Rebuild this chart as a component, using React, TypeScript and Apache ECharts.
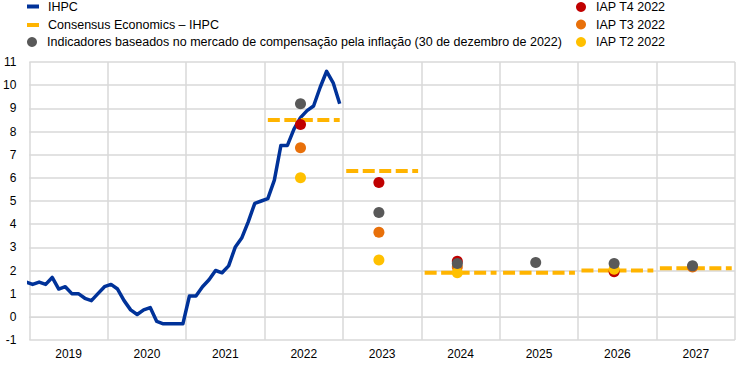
import React, { useEffect, useRef } from "react";
import * as echarts from "echarts";

const years = ["2019", "2020", "2021", "2022", "2023", "2024", "2025", "2026", "2027"];
const yTicks = [-1, 11, 1];

// IHPC monthly, Dec 2018 (clipped at the left edge) and Jan 2019 - Dec 2022
const ihpcDec2018 = [1.5];
const ihpc2019 = [1.4, 1.5, 1.4, 1.7, 1.2, 1.3, 1.0, 1.0, 0.8, 0.7, 1.0, 1.3];
const ihpc2020 = [1.4, 1.2, 0.7, 0.3, 0.1, 0.3, 0.4, -0.2, -0.3, -0.3, -0.3, -0.3];
const ihpc2021 = [0.9, 0.9, 1.3, 1.6, 2.0, 1.9, 2.2, 3.0, 3.4, 4.1, 4.9, 5.0];
const ihpc2022 = [5.1, 5.9, 7.4, 7.4, 8.1, 8.6, 8.9, 9.1, 9.9, 10.6, 10.1, 9.2];

// Yearly values, 2022 - 2027
const forecastYears = ["2022", "2023", "2024", "2025", "2026", "2027"];
const consensus = [8.5, 6.3, 1.9, 1.9, 2.0, 2.1];
const marketIndicators = [9.2, 4.5, 2.3, 2.35, 2.3, 2.2];
const iapT4 = [8.3, 5.8, 2.4, null, 1.95, null];
const iapT3 = [7.3, 3.65, 2.15, null, null, 2.15];
const iapT2 = [6.0, 2.45, 1.9, null, 2.05, null];

const names = {
  ihpc: "IHPC",
  consensus: "Consensus Economics – IHPC",
  market: "Indicadores baseados no mercado de compensação pela inflação (30 de dezembro de 2022)",
  t4: "IAP T4 2022",
  t3: "IAP T3 2022",
  t2: "IAP T2 2022",
};

const colors = {
  ihpc: "#003299",
  consensus: "#FFB400",
  market: "#595959",
  t4: "#C00000",
  t3: "#E8700A",
  t2: "#FFC000",
  grid: "#D9D9D9",
};

const FONT = "'Liberation Sans', Arial, sans-serif";
const LEGEND_FONT = 12.5;

export default function App() {
  const ref = useRef<HTMLDivElement>(null);

  useEffect(() => {
    if (!ref.current) return;
    const chart = echarts.init(ref.current, undefined, { renderer: "svg" });

    const ihpcAll = [...ihpcDec2018, ...ihpc2019, ...ihpc2020, ...ihpc2021, ...ihpc2022];
    const ihpcData = ihpcAll.map((v, i) => [i - 0.5, v]);

    const yearIdx = (y: string) => years.indexOf(y);
    const consensusData: any[] = [];
    forecastYears.forEach((y, k) => {
      const s = yearIdx(y) * 12;
      consensusData.push([s + 0.5, consensus[k]]);
      consensusData.push([s + 11.5, consensus[k]]);
      consensusData.push([s + 11.6, "-"]);
    });
    const dots = (arr: (number | null)[]) =>
      forecastYears
        .map((y, k) => (arr[k] == null ? null : [yearIdx(y) * 12 + 5.5, arr[k]]))
        .filter((d) => d !== null);

    const scatter = (name: string, color: string, data: any[], z: number) => ({
      name,
      type: "scatter",
      xAxisIndex: 1,
      data,
      symbolSize: 11,
      itemStyle: { color, opacity: 1 },
      z,
    });

    const legendText = {
      fontSize: LEGEND_FONT,
      color: "#000",
      lineHeight: 12,
      fontFamily: FONT,
    };

    chart.setOption({
      animation: false,
      backgroundColor: "#ffffff",
      textStyle: { fontFamily: FONT },
      grid: { left: 28, right: 9, top: 62, bottom: 26, containLabel: false },
      legend: [
        {
          orient: "vertical",
          left: 27,
          top: 0,
          padding: 0,
          itemGap: 5.5,
          itemWidth: 12,
          itemHeight: 4,
          icon: "rect",
          textStyle: { ...legendText, padding: [0, 0, 0, 4] },
          itemStyle: { borderWidth: 0 },
          data: [
            { name: names.ihpc, itemStyle: { color: colors.ihpc, borderWidth: 0 } },
            { name: names.consensus, itemStyle: { color: colors.consensus, borderWidth: 0 } },
          ],
        },
        {
          orient: "vertical",
          left: 27,
          top: 35.5,
          padding: 0,
          itemWidth: 12,
          itemHeight: 10,
          icon: "circle",
          textStyle: { ...legendText, padding: [0, 0, 0, 4] },
          itemStyle: { borderWidth: 0 },
          data: [{ name: names.market, itemStyle: { color: colors.market, borderWidth: 0 } }],
        },
        {
          orient: "vertical",
          left: 576,
          top: 0.5,
          padding: 0,
          itemGap: 4.5,
          itemWidth: 10,
          itemHeight: 10,
          icon: "circle",
          textStyle: { ...legendText, padding: [0, 0, 0, 5] },
          itemStyle: { borderWidth: 0 },
          data: [
            { name: names.t4, itemStyle: { color: colors.t4, borderWidth: 0 } },
            { name: names.t3, itemStyle: { color: colors.t3, borderWidth: 0 } },
            { name: names.t2, itemStyle: { color: colors.t2, borderWidth: 0 } },
          ],
        },
      ],
      xAxis: [
        {
          type: "category",
          data: years,
          position: "bottom",
          boundaryGap: true,
          axisLine: { show: true, lineStyle: { color: colors.grid, width: 1 } },
          axisTick: { show: false },
          axisLabel: { fontSize: 12, color: "#000", margin: 8, fontFamily: FONT },
          splitLine: { show: false },
        },
        {
          type: "value",
          position: "top",
          min: 0,
          max: years.length * 12,
          interval: 12,
          axisLine: { show: false },
          axisTick: { show: false },
          axisLabel: { show: false },
          splitLine: { show: true, lineStyle: { color: colors.grid, width: 1.5 } },
        },
      ],
      yAxis: {
        type: "value",
        min: yTicks[0],
        max: yTicks[1],
        interval: yTicks[2],
        axisLine: { show: false },
        axisTick: { show: false },
        axisLabel: { fontSize: 12, color: "#000", margin: 13, fontFamily: FONT },
        splitLine: { show: true, lineStyle: { color: colors.grid, width: 1.5 } },
      },
      series: [
        {
          name: names.ihpc,
          type: "line",
          xAxisIndex: 1,
          data: ihpcData,
          showSymbol: false,
          symbol: "none",
          clip: true,
          color: colors.ihpc,
          lineStyle: { color: colors.ihpc, width: 3.5, join: "round" },
          z: 3,
        },
        {
          name: names.consensus,
          type: "line",
          xAxisIndex: 1,
          data: consensusData,
          showSymbol: false,
          symbol: "none",
          connectNulls: false,
          color: colors.consensus,
          lineStyle: { color: colors.consensus, width: 4, type: [12, 4.5], cap: "butt" },
          z: 4,
        },
        scatter(names.t4, colors.t4, dots(iapT4), 5),
        scatter(names.t3, colors.t3, dots(iapT3), 6),
        scatter(names.t2, colors.t2, dots(iapT2), 7),
        scatter(names.market, colors.market, dots(marketIndicators), 8),
      ],
    });

    return () => chart.dispose();
  }, []);

  return (
    <div
      ref={ref}
      style={{ position: "fixed", left: 0, top: 0, width: 744, height: 366, background: "#fff" }}
    />
  );
}
